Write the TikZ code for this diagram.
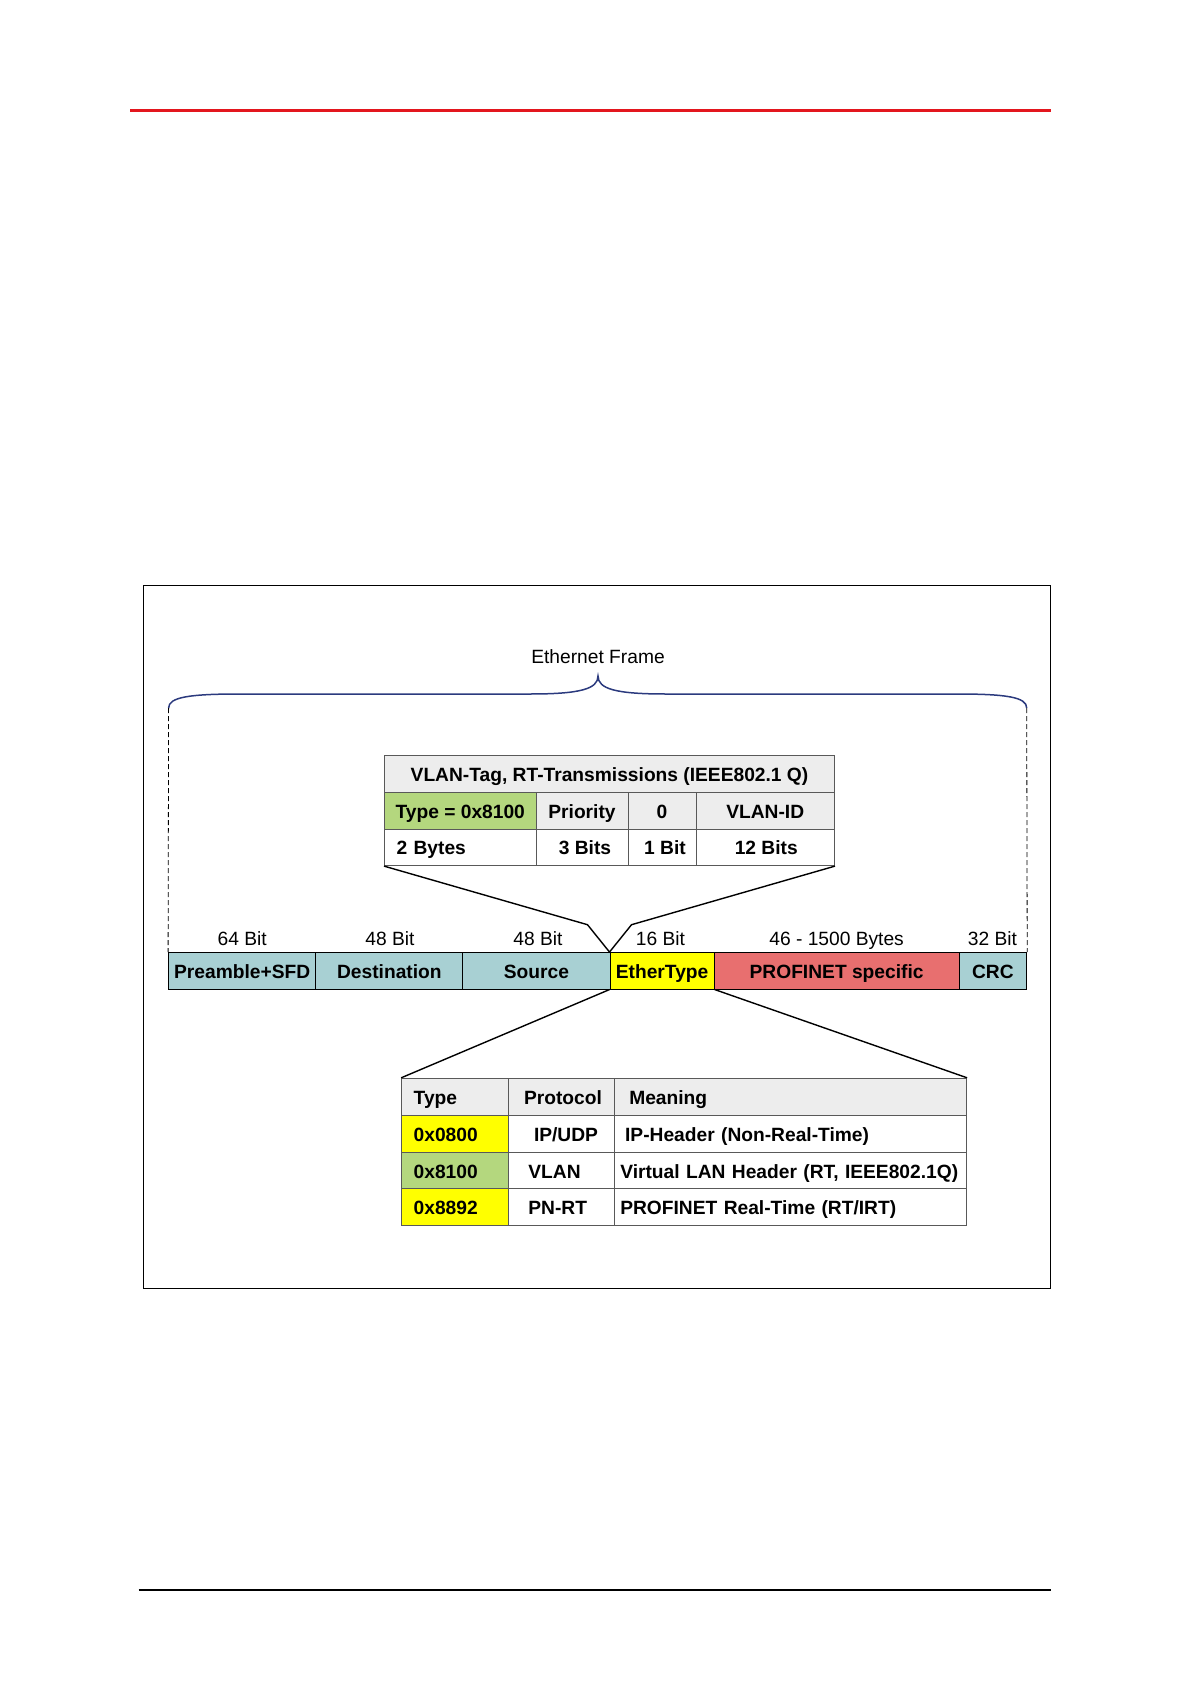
\documentclass[tikz,border=0pt]{standalone}
\usepackage{fontspec}
\setmainfont{Liberation Sans}
\usetikzlibrary{calc}
\definecolor{fteal}{HTML}{A8D0D3}
\definecolor{fyel}{HTML}{FFFF00}
\definecolor{fred}{HTML}{E86F6F}
\definecolor{fgrn}{HTML}{B4D77E}
\definecolor{hgray}{HTML}{EDEDED}
\definecolor{bblue}{HTML}{2B3A7E}
\definecolor{hred}{HTML}{E3161E}
\tikzset{
  cell/.style={draw,minimum height=18.25pt,inner sep=0pt,text height=8pt,text depth=0.5pt,
    font=\bfseries\fontsize{9.6}{11}\selectfont},
  tc/.style={cell,draw=black!65},
  lc/.style={tc,inner xsep=6pt,text width=#1,align=left},
  lm/.style={tc,inner xsep=3pt,text width=170.15pt,align=left},
  lp/.style={tc,inner xsep=3pt,text width=47.15pt,align=left},
  lbl/.style={inner sep=0pt,text height=6.9pt,text depth=1.9pt,font=\fontsize{9.6}{11}\selectfont},
  brace/.style={draw=bblue,line width=0.75pt},
  dsh/.style={dashed,dash pattern=on 2.5pt off 1.5pt,line width=0.4pt},
  fun/.style={line width=0.7pt},
  every picture/.style={line width=0.5pt},
}
\begin{document}
\begin{tikzpicture}[x=0.5pt,y=-0.5pt]
\useasboundingbox (0,0) rectangle (1191,1684);
% page rules and frame
\draw[hred,line width=1.1pt] (130,110.6) -- (1051,110.6);
\draw[line width=0.6pt] (138.5,1590) -- (1051.4,1590);
\draw (143.9,585.3) rectangle (1050.3,1288.8);

% ethernet frame
\node[cell,fill=fteal,minimum width=73.6pt] (pre) at (242.2,970.8) {Preamble+SFD};
\node[cell,fill=fteal,minimum width=73.55pt] (dst) at (389.35,970.8) {Destination};
\node[cell,fill=fteal,minimum width=73.55pt] (src) at (536.45,970.8) {Source};
\node[cell,fill=fyel,minimum width=52.1pt] (et) at (662.1,970.8) {EtherType};
\node[cell,fill=fred,minimum width=122.4pt] (pn) at (836.6,970.8) {PROFINET specific};
\node[cell,fill=fteal,minimum width=33.85pt] (crc) at (992.85,970.8) {CRC};
\node[lbl] (l1) at (242.2,940) {64 Bit}; \node[lbl] (l2) at (390,940) {48 Bit};
\node[lbl] (l3) at (538,940) {48 Bit}; \node[lbl] (l4) at (660.5,940) {16 Bit};
\node[lbl] (l5) at (836.6,940) {46 - 1500 Bytes}; \node[lbl] (l6) at (992.4,940) {32 Bit};

% brace
\node[lbl] (ef) at (598,658) {Ethernet Frame};
\coordinate (bl) at (168.6,708); \coordinate (br) at (1026.7,708); \coordinate (bt) at (598,676);
\draw[brace] (bl) .. controls (168.6,697) and (190,694) .. (240,694) -- (530,694)
  .. controls (580,694) and (598,689) .. (bt) .. controls (598,689) and (616,694) .. (666,694)
  -- (956,694) .. controls (1006,694) and (1026.7,697) .. (br);
\draw[dsh] (bl) -- (pre.north west); \draw[dsh] (br) -- (crc.north east);

% VLAN tag
\node[tc,fill=hgray,minimum width=225pt,minimum height=18.8pt] (vh) at (609.5,773.8) {VLAN-Tag, RT-Transmissions (IEEE802.1 Q)};
\node[tc,fill=fgrn,minimum width=75.75pt] (vtyp) at (460.25,810.85) {Type = 0x8100};
\node[tc,fill=hgray,minimum width=46pt] (vpri) at (582,810.85) {Priority};
\node[tc,fill=hgray,minimum width=34pt] (vcfi) at (662,810.85) {0};
\node[tc,fill=hgray,minimum width=69.25pt] (vid) at (765.25,810.85) {VLAN-ID};
\node[lc=63.75pt] (vb1) at (460.25,847.35) {2 Bytes};
\node[tc,minimum width=46pt] (vb2) at (582,847.35) {\hspace*{3pt}3 Bits};
\node[tc,minimum width=34pt] (vb3) at (662,847.35) {\hspace*{3pt}1 Bit};
\node[tc,minimum width=69.25pt] (vb4) at (765.25,847.35) {\hspace*{1pt}12 Bits};
\coordinate (k1) at (587.5,924.7); \coordinate (k2) at (631.5,924.7);
\draw[fun] (vb1.south west) -- (k1) -- (et.north west) -- (k2) -- (vb4.south east);

% EtherType table
\node[lc=41.15pt,fill=hgray,minimum height=18.8pt] (lh1) at (454.85,1097.1) {Type};
\node[lp,fill=hgray,minimum height=18.8pt] (lh2) at (561.15,1097.1) {\hspace*{5pt}Protocol};
\node[lm,fill=hgray,minimum height=18.8pt,inner xsep=7.5pt,text width=161.15pt] (lh3) at (790.45,1097.1) {Meaning};
\node[lc=41.15pt,fill=fyel] (la1) at (454.85,1134.15) {0x0800};
\node[lp] (la2) at (561.15,1134.15) {\hspace*{10pt}IP/UDP};
\node[lm,inner xsep=5.4pt,text width=165.35pt] (la3) at (790.45,1134.15) {IP-Header (Non-Real-Time)};
\node[lc=41.15pt,fill=fgrn] (lb1) at (454.85,1170.65) {0x8100};
\node[lp] (lb2) at (561.15,1170.65) {\hspace*{7.2pt}VLAN};
\node[lm] (lb3) at (790.45,1170.65) {Virtual LAN Header (RT, IEEE802.1Q)};
\node[lc=41.15pt,fill=fyel] (lc1) at (454.85,1207.15) {0x8892};
\node[lp] (lc2) at (561.15,1207.15) {\hspace*{7.2pt}PN-RT};
\node[lm] (lc3) at (790.45,1207.15) {PROFINET Real-Time (RT/IRT)};
\draw[fun] (et.south west) -- (lh1.north west); \draw[fun] (et.south east) -- (lh3.north east);
\end{tikzpicture}
\end{document}
